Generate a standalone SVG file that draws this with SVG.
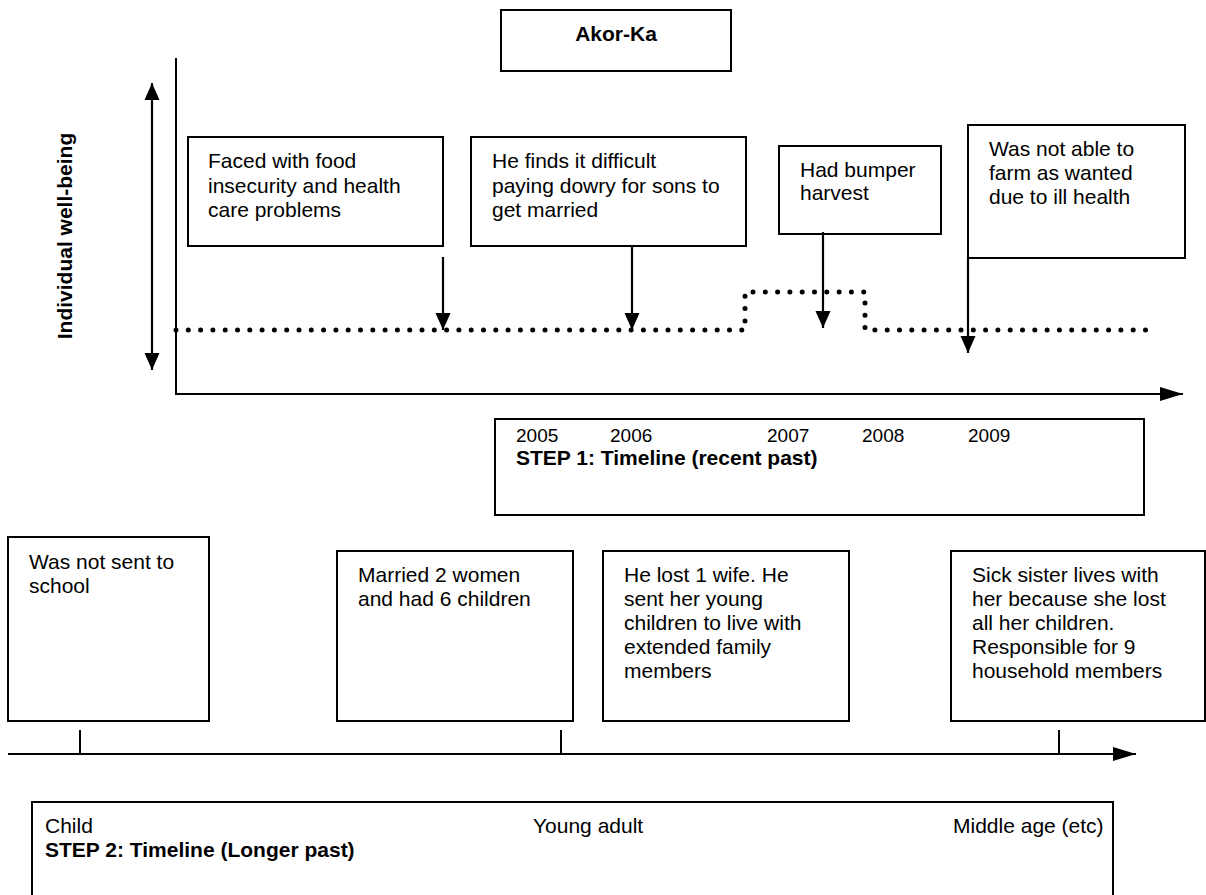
<svg xmlns="http://www.w3.org/2000/svg" width="1206" height="895" viewBox="0 0 1206 895">
  <style>
    .box { fill: #fff; stroke: #000; stroke-width: 2; }
    .txt { font-family: "Liberation Sans", Arial, sans-serif; font-size: 21px; fill: #000; }
    .bold { font-weight: bold; }
    .small { font-size: 19px; }
    .axis { fill: none; stroke: #000; stroke-width: 2; }
    .arrow { fill: none; stroke: #000; stroke-width: 2.2; }
    .dots { fill: none; stroke: #000; stroke-width: 5; stroke-linecap: round; stroke-dasharray: 0 12.3; }
  </style>
  <defs>
    <marker id="head" markerUnits="userSpaceOnUse" markerWidth="18" markerHeight="16" refX="17" refY="8" orient="auto-start-reverse">
      <path d="M0,0.5 L17,8 L0,15.5 z" fill="#000"/>
    </marker>
    <marker id="headAxis" markerUnits="userSpaceOnUse" markerWidth="24" markerHeight="16" refX="23" refY="8" orient="auto">
      <path d="M0,1 L23,8 L0,15 z" fill="#000"/>
    </marker>
  </defs>

  <rect width="1206" height="895" fill="#fff"/>

  <!-- title -->
  <g id="title">
    <rect class="box" x="501" y="10" width="230" height="61"/>
    <text class="txt bold" x="616" y="41" text-anchor="middle">Akor-Ka</text>
  </g>

  <!-- well-being axis label -->
  <g id="axis-label">
    <text class="txt bold" transform="translate(72,236) rotate(-90)" text-anchor="middle">Individual well-being</text>
  </g>

  <!-- recent-past events -->
  <g id="event-food">
    <rect class="box" x="188" y="137" width="255" height="109"/>
    <text class="txt" x="208" y="168">Faced with food</text>
    <text class="txt" x="208" y="192.5">insecurity and health</text>
    <text class="txt" x="208" y="217">care problems</text>
  </g>
  <g id="event-dowry">
    <rect class="box" x="471" y="137" width="275" height="109"/>
    <text class="txt" x="492" y="168">He finds it difficult</text>
    <text class="txt" x="492" y="192.5">paying dowry for sons to</text>
    <text class="txt" x="492" y="217">get married</text>
  </g>
  <g id="event-harvest">
    <rect class="box" x="779" y="146" width="162" height="88"/>
    <text class="txt" x="800" y="177">Had bumper</text>
    <text class="txt" x="800" y="200">harvest</text>
  </g>
  <g id="event-health">
    <rect class="box" x="968" y="125" width="217" height="133"/>
    <text class="txt" x="989" y="156">Was not able to</text>
    <text class="txt" x="989" y="180">farm as wanted</text>
    <text class="txt" x="989" y="204">due to ill health</text>
  </g>

  <!-- step 1 legend -->
  <g id="step1">
    <rect class="box" x="495" y="419" width="649" height="96"/>
    <text class="txt small" x="516" y="442">2005</text>
    <text class="txt small" x="610" y="442">2006</text>
    <text class="txt small" x="767" y="442">2007</text>
    <text class="txt small" x="862" y="442">2008</text>
    <text class="txt small" x="968" y="442">2009</text>
    <text class="txt bold" x="516" y="465">STEP 1: Timeline (recent past)</text>
  </g>

  <!-- longer-past events -->
  <g id="event-school">
    <rect class="box" x="8" y="537" width="201" height="184"/>
    <text class="txt" x="29" y="569">Was not sent to</text>
    <text class="txt" x="29" y="593">school</text>
  </g>
  <g id="event-married">
    <rect class="box" x="337" y="551" width="236" height="170"/>
    <text class="txt" x="358" y="582">Married 2 women</text>
    <text class="txt" x="358" y="606">and had 6 children</text>
  </g>
  <g id="event-wife">
    <rect class="box" x="603" y="551" width="246" height="170"/>
    <text class="txt" x="624" y="582">He lost 1 wife. He</text>
    <text class="txt" x="624" y="606">sent her young</text>
    <text class="txt" x="624" y="630">children to live with</text>
    <text class="txt" x="624" y="654">extended family</text>
    <text class="txt" x="624" y="678">members</text>
  </g>
  <g id="event-sister">
    <rect class="box" x="951" y="551" width="254" height="170"/>
    <text class="txt" x="972" y="582">Sick sister lives with</text>
    <text class="txt" x="972" y="606">her because she lost</text>
    <text class="txt" x="972" y="630">all her children.</text>
    <text class="txt" x="972" y="654">Responsible for 9</text>
    <text class="txt" x="972" y="678">household members</text>
  </g>

  <!-- step 2 legend -->
  <g id="step2">
    <rect class="box" x="32" y="802" width="1081" height="110"/>
    <text class="txt" x="45" y="833">Child</text>
    <text class="txt" x="533" y="833">Young adult</text>
    <text class="txt" x="953" y="833">Middle age (etc)</text>
    <text class="txt bold" x="45" y="857">STEP 2: Timeline (Longer past)</text>
  </g>

  <!-- axes, well-being trace and event pointers -->
  <g id="connectors">
    <path class="axis" d="M176,58 V394 H1183" marker-end="url(#headAxis)"/>
    <line class="arrow" x1="152" y1="83" x2="152" y2="370" stroke-width="2.5" marker-start="url(#head)" marker-end="url(#head)"/>
    <path class="dots" d="M176,330 H745 V292 H865 V330 H1152"/>
    <line class="arrow" x1="443" y1="257" x2="443" y2="330" marker-end="url(#head)"/>
    <line class="arrow" x1="632" y1="246" x2="632" y2="330" marker-end="url(#head)"/>
    <line class="arrow" x1="823" y1="232" x2="823" y2="328" marker-end="url(#head)"/>
    <line class="arrow" x1="968" y1="258" x2="968" y2="353" marker-end="url(#head)"/>
    <line class="axis" x1="8" y1="754" x2="1136" y2="754" marker-end="url(#headAxis)"/>
    <line class="axis" x1="80" y1="730" x2="80" y2="754"/>
    <line class="axis" x1="561" y1="730" x2="561" y2="754"/>
    <line class="axis" x1="1059" y1="730" x2="1059" y2="754"/>
  </g>
</svg>
